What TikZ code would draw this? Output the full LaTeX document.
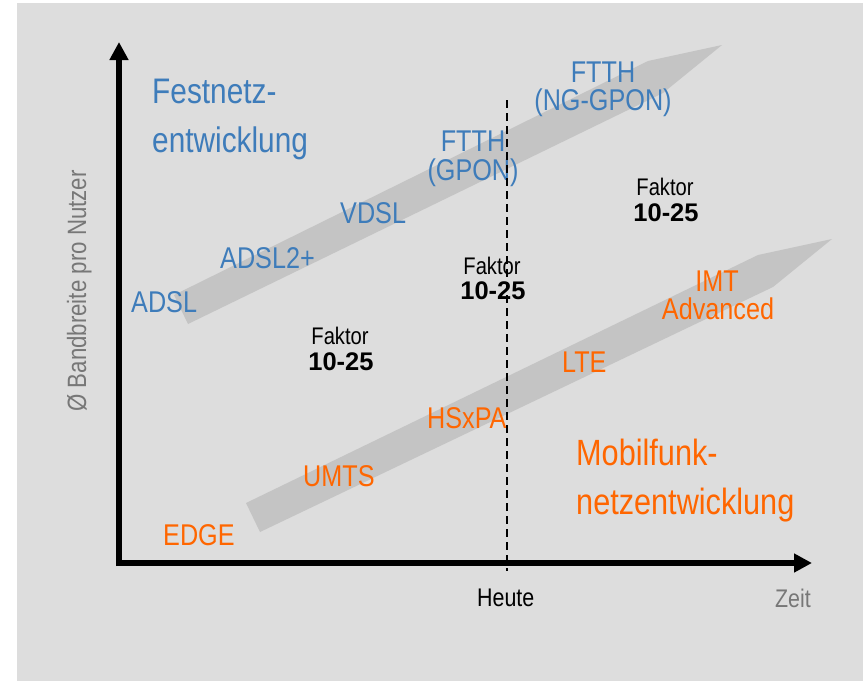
\documentclass[tikz,border=0pt]{standalone}
\usepackage{fontspec}
\usetikzlibrary{arrows.meta}
\newfontfamily\lblfont[FakeStretch=0.84]{Liberation Sans}
\newfontfamily\numfont{Liberation Sans}
\definecolor{bggray}{HTML}{DDDDDD}
\definecolor{bandgray}{HTML}{C4C4C4}
\definecolor{fixblue}{RGB}{62,124,186}
\definecolor{mobor}{RGB}{255,102,0}
\definecolor{axgray}{HTML}{777777}
\newcommand\fsz[1]{\fontsize{#1}{#1}\selectfont}

\begin{document}
\begin{tikzpicture}[x=1pt,y=-1pt,
  txt/.style={inner sep=0pt, anchor=base},
  fixlbl/.style={txt, text=fixblue, font=\lblfont\fsz{30}},
  fixhead/.style={txt, anchor=base west, text=fixblue, font=\lblfont\fsz{35.5}},
  moblbl/.style={txt, text=mobor, font=\lblfont\fsz{30}},
  mobhead/.style={txt, anchor=base west, text=mobor, font=\lblfont\fsz{36.5}},
  faklbl/.style={txt, text=black, font=\lblfont\fsz{24}},
  facnum/.style={txt, text=black, font=\numfont\bfseries\fsz{25.5}},
  axlbl/.style={txt, font=\lblfont\fsz{25.5}},
  band/.style={fill=bandgray, draw=none},
  axis/.style={line width=5.5pt, -{Triangle[length=18pt,width=18pt]}},
  nowline/.style={line width=1.5pt, dash pattern=on 8pt off 5pt}]

% canvas
\fill[white] (0,0) rectangle (863,681);
\fill[bggray] (17,3) rectangle (863,681);
\useasboundingbox (0,0) rectangle (863,681);

% growth bands
\fill[band] (174,295) -- (648,61) -- (722,45) -- (663,93) -- (188,324) -- cycle;
\fill[band] (246,503) -- (758,255) -- (832,239) -- (773,287) -- (260,532) -- cycle;

% fixed-line labels
\node[fixhead] (fest1) at (152,103) {Festnetz-};
\node[fixhead] (fest2) at (152,152) {entwicklung};
\node[fixlbl, anchor=base west] (adsl) at (131,312) {ADSL};
\node[fixlbl, anchor=base west] (adsl2) at (220,268) {ADSL2+};
\node[fixlbl, anchor=base west] (vdsl) at (340,223) {VDSL};
\node[fixlbl] (ftth1a) at (473,151) {FTTH};
\node[fixlbl] (ftth1b) at (473,180) {(GPON)};
\node[fixlbl] (ftth2a) at (603,82) {FTTH};
\node[fixlbl] (ftth2b) at (603,110) {(NG-GPON)};

% mobile labels
\node[moblbl, anchor=base west] (edge) at (163,545) {EDGE};
\node[moblbl, anchor=base west] (umts) at (303,486) {UMTS};
\node[moblbl, anchor=base west] (hspa) at (427,428) {HSxPA};
\node[moblbl, anchor=base west] (lte) at (562,372) {LTE};
\node[moblbl] (imt1) at (717,291) {IMT};
\node[moblbl] (imt2) at (718,319) {Advanced};
\node[mobhead] (mob1) at (576,465) {Mobilfunk-};
\node[mobhead] (mob2) at (576,514) {netzentwicklung};

% growth factors
\node[faklbl] (fa1) at (340,344) {Faktor};
\node[facnum] (fn1) at (341,370) {10-25};
\node[faklbl] (fa2) at (492,274) {Faktor};
\node[facnum] (fn2) at (493,299) {10-25};
\node[faklbl] (fa3) at (665,195) {Faktor};
\node[facnum] (fn3) at (666,221) {10-25};

% "today" marker
\coordinate (nowtop) at (507,100);
\coordinate (nowbot) at (507,571);
\draw[nowline] (nowtop) -- (nowbot);

% axes
\coordinate (ybot) at (119,566);
\coordinate (ytop) at (119,42);
\coordinate (xleft) at (116,563);
\coordinate (xright) at (812,563);
\draw[axis] (ybot) -- (ytop);
\draw[axis] (xleft) -- (xright);

% axis labels
\node[axlbl, anchor=base west] (heute) at (477,606) {Heute};
\node[axlbl, anchor=base east, text=axgray] (zeit) at (811,607) {Zeit};
\node[axlbl, text=axgray, rotate=90, font=\lblfont\fsz{26.5}] (ylab) at (86,291) {Ø Bandbreite pro Nutzer};
\end{tikzpicture}
\end{document}
